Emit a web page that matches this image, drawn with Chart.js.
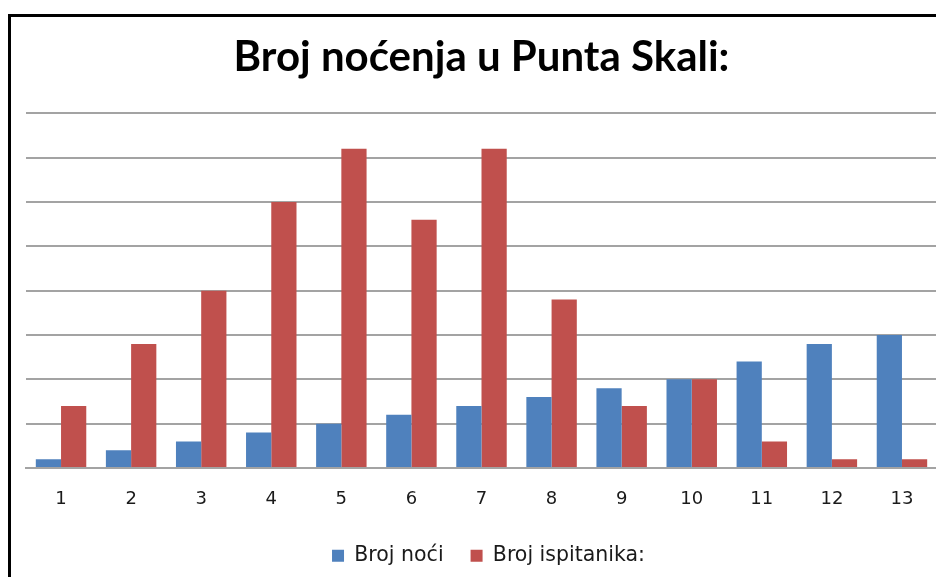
<!DOCTYPE html>
<html lang="hr">
<head>
<meta charset="UTF-8">
<title>Broj noćenja u Punta Skali</title>
<script src="https://cdn.jsdelivr.net/npm/chart.js"></script>
<style>
    body {
        margin: 0;
        background: #ffffff;
        overflow: hidden;
    }
    .frame {
        position: absolute;
        left: 8px;
        top: 14px;
        width: 1000px;
        height: 1000px;
        border-left: 3px solid #000;
        border-top: 3px solid #000;
    }
    #chart {
        position: absolute;
        left: 0;
        top: 0;
    }
</style>
</head>
<body>
<div class="frame"></div>
<canvas id="chart" width="946" height="577"></canvas>
<script>
// broj noći (kategorije na osi x)
const categories = ['1', '2', '3', '4', '5', '6', '7', '8', '9', '10', '11', '12', '13'];
const brojNoci = [1, 2, 3, 4, 5, 6, 7, 8, 9, 10, 12, 14, 15];
const brojIspitanika = [7, 14, 20, 30, 36, 28, 36, 19, 7, 10, 3, 1, 1];
const yTicks = [0, 5, 10, 15, 20, 25, 30, 35, 40];

const gridColor = '#a3a3a3';

// legenda je u originalu malo desno od sredine
const legendShift = {
    id: 'legendShift',
    afterLayout(chart) {
        chart.legend.left += 7;
        chart.legend.right += 7;
    }
};

new Chart(document.getElementById('chart'), {
    type: 'bar',
    data: {
        labels: categories,
        datasets: [
            {
                label: 'Broj noći',
                data: brojNoci,
                backgroundColor: '#4F81BD',
                categoryPercentage: 0.72,
                barPercentage: 1.0
            },
            {
                label: 'Broj ispitanika:',
                data: brojIspitanika,
                backgroundColor: '#C0504D',
                categoryPercentage: 0.72,
                barPercentage: 1.0
            }
        ]
    },
    plugins: [legendShift],
    options: {
        responsive: false,
        animation: false,
        layout: {
            padding: { left: 26, right: 9, top: 0, bottom: 1 }
        },
        plugins: {
            title: {
                display: true,
                text: 'Broj noćenja u Punta Skali:',
                color: '#000',
                font: { family: 'Lato', size: 42, weight: 'bold' },
                padding: { top: 32, bottom: 31 }
            },
            legend: {
                position: 'bottom',
                labels: {
                    color: '#1a1a1a',
                    font: { family: 'DejaVu Sans', size: 20.5 },
                    boxWidth: 12,
                    boxHeight: 12,
                    padding: 27
                }
            },
            tooltip: { enabled: false }
        },
        scales: {
            x: {
                grid: { display: false, drawTicks: false },
                border: { display: true, color: gridColor, width: 2 },
                ticks: {
                    color: '#1a1a1a',
                    font: { family: 'DejaVu Sans', size: 18 },
                    padding: 21
                },
                afterFit: function (axis) {
                    axis.height = 50.5;
                }
            },
            y: {
                min: 0,
                max: 40,
                afterBuildTicks: function (axis) {
                    axis.ticks = yTicks.map(v => ({ value: v }));
                },
                ticks: { display: false },
                grid: { color: gridColor, lineWidth: 2, drawTicks: false },
                border: { display: false }
            }
        }
    }
});
</script>
</body>
</html>
